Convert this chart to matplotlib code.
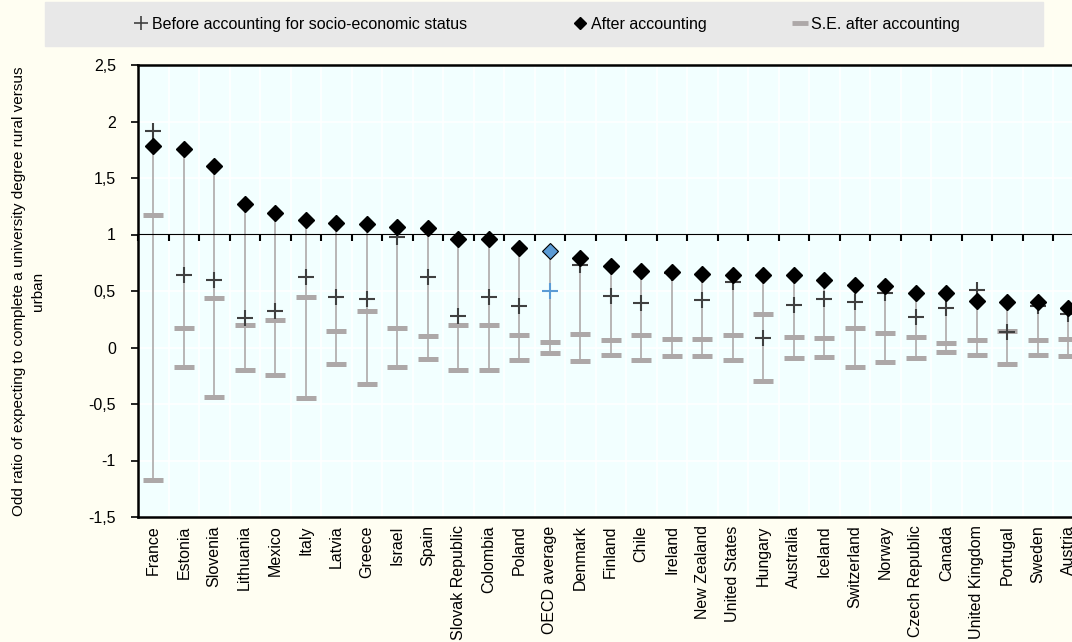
import numpy as np
import matplotlib
matplotlib.use("Agg")
import matplotlib.pyplot as plt
from matplotlib.lines import Line2D

plt.rcParams['font.family'] = ['Liberation Sans', 'DejaVu Sans']

countries = ["France", "Estonia", "Slovenia", "Lithuania", "Mexico", "Italy", "Latvia",
             "Greece", "Israel", "Spain", "Slovak Republic", "Colombia", "Poland",
             "OECD average", "Denmark", "Finland", "Chile", "Ireland", "New Zealand",
             "United States", "Hungary", "Australia", "Iceland", "Switzerland", "Norway",
             "Czech Republic", "Canada", "United Kingdom", "Portugal", "Sweden", "Austria"]

# odds ratios before / after controlling for ESCS, and standard error after
before = [1.92, 0.64, 0.60, 0.26, 0.32, 0.62, 0.45, 0.43, 0.98, 0.62, 0.28, 0.45, 0.37,
          0.50, 0.73, 0.46, 0.39, 0.66, 0.42, 0.58, 0.08, 0.38, 0.43, 0.40, 0.48,
          0.27, 0.35, 0.51, 0.14, 0.37, 0.30]
after = [1.78, 1.76, 1.61, 1.27, 1.19, 1.13, 1.10, 1.09, 1.07, 1.06, 0.96, 0.96, 0.88,
         0.85, 0.79, 0.72, 0.68, 0.67, 0.65, 0.64, 0.64, 0.64, 0.60, 0.55, 0.54,
         0.48, 0.48, 0.41, 0.40, 0.40, 0.35]
se_after = [1.17, 0.17, 0.44, 0.20, 0.24, 0.45, 0.15, 0.32, 0.17, 0.10, 0.20, 0.20, 0.11,
            0.05, 0.12, 0.065, 0.115, 0.075, 0.075, 0.107, 0.30, 0.09, 0.087, 0.17, 0.127,
            0.097, 0.04, 0.062, 0.15, 0.065, 0.075]

yticks = np.arange(-1.5, 2.51, 0.5)
ytick_labels = [f"{v:g}".replace(".", ",") for v in yticks]

before = np.array(before)
after = np.array(after)
se = np.array(se_after)
x = np.arange(len(countries))
oecd = countries.index("OECD average")
other = x != oecd

FS = 11.5
W, H = 1072, 642
fig = plt.figure(figsize=(W / 100, H / 100), dpi=100)
fig.patch.set_facecolor("#FFFEF2")

# plot area runs off the right edge on purpose (list continues)
cat_w = 30.5
ax_w = len(countries) * cat_w
ax = fig.add_axes([138 / W, (H - 517) / H, ax_w / W, 452 / H])
ax.set_facecolor("#F2FFFF")
ax.set_xlim(-0.5, len(countries) - 0.5)
ax.set_ylim(-1.5, 2.5)

# grid
ax.set_xticks(x)
ax.set_xticks(np.arange(-0.5, len(countries)), minor=True)
ax.grid(True, which="minor", axis="x", color="white", lw=1.2)
ax.grid(True, which="major", axis="y", color="white", lw=1.2)
ax.set_axisbelow(True)

ax.set_xticklabels(countries, rotation=90, fontsize=FS)
ax.tick_params(axis="x", which="both", length=0, pad=6)
ax.set_yticks(yticks)
ax.set_yticklabels(ytick_labels, fontsize=FS)
ax.tick_params(axis="y", direction="out", length=5, width=1.2, pad=11)
for s in ax.spines.values():
    s.set_linewidth(1.8)
    s.set_color("black")
ax.spines["right"].set_visible(False)

# category axis crossing at 1
cross = ax.secondary_xaxis((1 - (-1.5)) / 4.0)
cross.set_xticks(np.arange(-0.5, len(countries)))
cross.set_xticklabels([])
cross.tick_params(direction="in", length=5, width=1.5, color="black")
cross.spines["bottom"].set_linewidth(2)
cross.set_zorder(2.5)

# high-low lines across all series
hi = np.maximum.reduce([before, after, se])
lo = np.minimum.reduce([before, after, -se])
ax.vlines(x, lo, hi, color="#B3B0B0", lw=1.3, zorder=2)

grey = "#ADA8A8"
ax.plot(x, se, ls="none", marker="_", ms=14.5, mew=3.6, color=grey, zorder=3)
ax.plot(x, -se, ls="none", marker="_", ms=14.5, mew=3.6, color=grey, zorder=3)

ax.plot(x[other], before[other], ls="none", marker="+", ms=11, mew=1.5,
        color="#404040", zorder=4)
ax.plot(x[oecd], before[oecd], ls="none", marker="+", ms=11, mew=1.5,
        color="#5B9BD5", zorder=4)
ax.plot(x[other], after[other], ls="none", marker="D", ms=8.5, color="black", zorder=5)
ax.plot(x[oecd], after[oecd], ls="none", marker="D", ms=8.5, mfc="#5B9BD5",
        mec="black", mew=0.8, zorder=5)

ax.set_ylabel("Odd ratio of expecting to complete a university degree rural versus\nurban",
              fontsize=11, linespacing=1.45)
ax.yaxis.set_label_coords(-93 / ax_w, 0.5)

# legend strip
fig.patches.append(plt.Rectangle((45 / W, 1 - 46 / H), 998 / W, 44 / H,
                                 transform=fig.transFigure, color="#E8E8E8", zorder=0))
entries = [
    (Line2D([], [], ls="none", marker="+", ms=10, mew=1.2, color="#404040"),
     "Before accounting for socio-economic status", 135),
    (Line2D([], [], ls="none", marker="D", ms=6, color="black"), "After accounting", 574),
    (Line2D([], [], ls="none", marker="_", ms=11, mew=3.5, color=grey),
     "S.E. after accounting", 794),
]
for h, lab, px in entries:
    fig.legend([h], [lab], loc="center left", bbox_to_anchor=(px / W, 1 - 24 / H),
               frameon=False, fontsize=FS, handlelength=0.8, handletextpad=0.25,
               borderpad=0, borderaxespad=0)

fig.savefig("out.png", dpi=100, facecolor=fig.get_facecolor())
